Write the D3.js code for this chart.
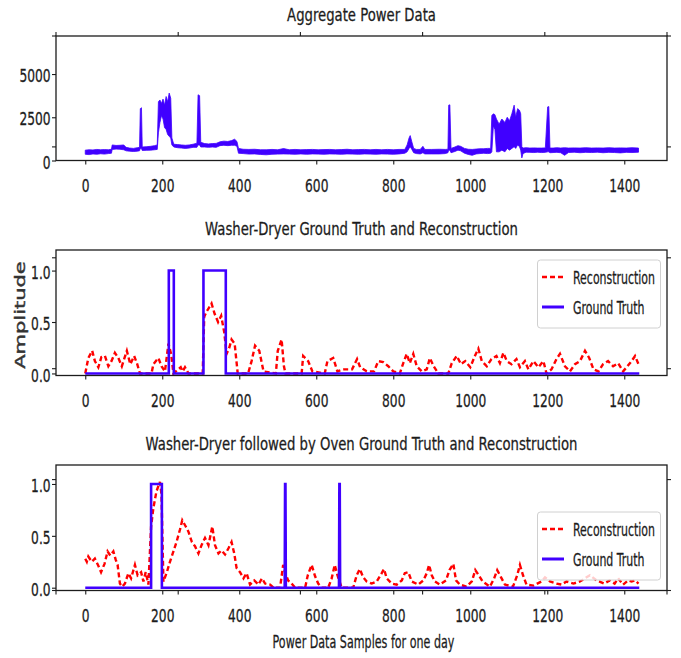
<!DOCTYPE html>
<html>
<head>
<meta charset="utf-8">
<script src="https://cdn.jsdelivr.net/npm/d3@7"></script>
<style>
  body { margin: 0; background: #fff; }
  text { font-family: 'DejaVu Sans', sans-serif; fill: #1c1c1c; stroke: #1c1c1c; stroke-width: 0.3; }
</style>
</head>
<body>
<script>
// ---- data ----
const xTicks = [0, 200, 400, 600, 800, 1000, 1200, 1400]
const aggTicks = [0, 2500, 5000]
const ampTicks = [0, 0.5, 1.0]
const titles = [
  'Aggregate Power Data',
  'Washer-Dryer Ground Truth and Reconstruction',
  'Washer-Dryer followed by Oven Ground Truth and Reconstruction'
]
const legendNames = ['Reconstruction', 'Ground Truth']

// aggregate power, [sample, low, high] of the noisy band
const aggBand = [
  [0, 360, 600], [10, 340, 620], [20, 380, 610], [30, 360, 640], [40, 390, 620], [50, 370, 630], [60, 400, 620], [68, 420, 650],
  [70, 640, 900], [80, 660, 870], [90, 650, 880], [100, 620, 900], [106, 560, 760], [115, 540, 720], [125, 520, 700], [135, 540, 740],
  [141, 560, 760], [143, 700, 3000], [146, 700, 3050], [148, 580, 780], [160, 590, 800], [170, 600, 820], [180, 620, 860], [187, 640, 900],
  [190, 1600, 3400], [194, 2200, 3500], [198, 2600, 3300], [202, 2400, 3550], [206, 1900, 3200], [210, 1800, 3700], [214, 1500, 3400],
  [218, 1400, 3900], [222, 1300, 3600], [225, 900, 1300],
  [230, 780, 940], [240, 740, 920], [250, 720, 900], [260, 700, 880], [270, 720, 900], [280, 760, 940], [290, 760, 1000],
  [293, 900, 3800], [297, 900, 3750], [300, 780, 1050], [310, 780, 980], [320, 760, 960], [330, 780, 980], [340, 760, 990],
  [350, 860, 1080], [360, 880, 1120], [370, 860, 1100], [380, 880, 1150], [388, 880, 1230], [394, 820, 1100], [398, 420, 700],
  [410, 400, 650], [425, 370, 640], [440, 380, 650], [455, 350, 620], [470, 330, 620], [485, 360, 640], [500, 370, 620],
  [515, 380, 690], [530, 370, 620], [545, 360, 640], [560, 380, 620], [575, 360, 630], [590, 380, 640], [605, 370, 620],
  [620, 360, 630], [635, 380, 640], [650, 370, 620], [665, 360, 630], [680, 380, 650], [695, 370, 620], [710, 360, 630],
  [725, 380, 640], [740, 370, 620], [755, 360, 640], [770, 380, 620], [785, 370, 640], [800, 360, 620], [815, 380, 640],
  [830, 420, 640], [836, 500, 900], [841, 700, 1300], [844, 800, 1440], [848, 650, 1100], [853, 450, 700],
  [860, 400, 640], [870, 380, 640], [877, 450, 820], [882, 380, 640], [900, 380, 640], [920, 380, 650], [935, 400, 640],
  [942, 450, 650], [944, 600, 3200], [947, 600, 3220], [950, 450, 700],
  [960, 520, 780], [968, 600, 860], [975, 560, 820], [985, 420, 700], [995, 350, 650], [1005, 300, 640], [1015, 380, 660],
  [1025, 400, 680], [1035, 420, 680], [1045, 400, 700], [1053, 420, 700],
  [1056, 500, 2600], [1060, 2000, 2700], [1064, 1800, 2650], [1068, 500, 2400], [1075, 500, 2100], [1082, 600, 2400],
  [1090, 500, 2200], [1096, 700, 2500], [1102, 600, 2300], [1108, 700, 2700], [1114, 800, 3200], [1118, 700, 2500],
  [1123, 900, 3000], [1128, 800, 2900], [1131, 600, 2700],
  [1134, 150, 800], [1137, 400, 720], [1145, 480, 740], [1155, 470, 720], [1165, 460, 730], [1175, 480, 720], [1185, 460, 720], [1195, 470, 730],
  [1201, 500, 3100], [1204, 500, 3120], [1207, 450, 720], [1215, 460, 720], [1225, 470, 740], [1235, 450, 720], [1245, 300, 740],
  [1255, 460, 720], [1270, 480, 730], [1285, 450, 720], [1300, 470, 740], [1315, 460, 720], [1330, 480, 730], [1345, 450, 720],
  [1360, 470, 740], [1375, 460, 720], [1390, 440, 730], [1405, 470, 720], [1420, 460, 740], [1437, 480, 720]
]

// washer-dryer panel
const recon1 = [
  [0, 0], [8, 0.15], [18, 0.22], [25, 0.12], [34, 0.06], [42, 0.16], [51, 0.17], [60, 0.07], [68, 0.12], [77, 0.2], [86, 0.15],
  [95, 0.07], [108, 0.22], [117, 0.09], [127, 0.17], [135, 0.09], [142, 0], [172, 0], [177, 0.09], [190, 0.15], [198, 0.07],
  [207, 0.02], [216, 0.29], [223, 0.19], [229, 0], [248, 0.06], [253, 0.02], [259, 0.06], [268, 0], [305, 0], [309, 0.55],
  [315, 0.6], [320, 0.63], [328, 0.68], [336, 0.58], [345, 0.5], [353, 0.56], [361, 0.4], [367, 0.19], [374, 0.25], [380, 0.33],
  [388, 0.29], [396, 0], [423, 0], [432, 0.12], [441, 0.27], [452, 0.22], [463, 0.02], [495, 0], [500, 0.22], [510, 0.33],
  [516, 0.07], [520, 0], [562, 0], [566, 0.17], [579, 0.12], [590, 0.02], [622, 0], [629, 0.12], [644, 0.15], [655, 0.02],
  [672, 0.04], [693, 0.04], [706, 0.14], [714, 0.06], [731, 0.02], [750, 0.02], [761, 0.12], [774, 0.11], [787, 0.07],
  [800, 0.02], [817, 0], [826, 0.1], [835, 0.19], [843, 0.1], [852, 0.19], [861, 0.07], [874, 0.02], [887, 0.04], [895, 0.15],
  [905, 0.07], [917, 0], [943, 0], [952, 0.1], [965, 0.17], [976, 0.09], [987, 0.12], [1000, 0.06], [1012, 0.17], [1021, 0.24],
  [1030, 0.12], [1043, 0.07], [1055, 0.14], [1068, 0.17], [1077, 0.1], [1086, 0.2], [1095, 0.12], [1107, 0.09], [1120, 0.14],
  [1129, 0.06], [1142, 0.12], [1151, 0.04], [1164, 0.12], [1177, 0.06], [1190, 0.12], [1198, 0], [1211, 0.04], [1224, 0.14],
  [1233, 0.19], [1246, 0.07], [1259, 0.02], [1272, 0.09], [1285, 0.12], [1298, 0.22], [1309, 0.15], [1320, 0.04], [1333, 0.02],
  [1345, 0.09], [1358, 0.12], [1371, 0.07], [1384, 0.1], [1397, 0.02], [1406, 0.06], [1419, 0.12], [1428, 0.17], [1437, 0.09]
]
const truth1 = [
  [0, 0], [217, 0], [217, 1], [230, 1], [230, 0], [307, 0], [307, 1], [365, 1], [365, 0], [1439, 0]
]

// washer-dryer followed by oven panel
const recon2 = [
  [0, 0.28], [4, 0.25], [8, 0.3], [17, 0.25], [25, 0.28], [33, 0.22], [41, 0.15], [50, 0.23], [58, 0.35], [65, 0.31], [73, 0.35],
  [79, 0.27], [84, 0.22], [90, 0.04], [96, 0.01], [103, 0.04], [112, 0.14], [119, 0.09], [129, 0.22], [136, 0.12], [145, 0.15],
  [151, 0.06], [157, 0.15], [164, 0.03], [171, 0.59], [177, 0.77], [185, 0.93], [194, 1.02], [198, 0.9], [203, 0.06], [212, 0.15],
  [220, 0.25], [229, 0.35], [237, 0.44], [246, 0.56], [252, 0.65], [261, 0.59], [268, 0.54], [277, 0.44], [285, 0.4], [294, 0.33],
  [302, 0.41], [311, 0.48], [320, 0.41], [330, 0.59], [337, 0.41], [346, 0.33], [354, 0.36], [363, 0.32], [372, 0.38], [380, 0.44],
  [387, 0.33], [393, 0.19], [402, 0.15], [411, 0.09], [419, 0.14], [428, 0.03], [439, 0.07], [450, 0.03], [459, 0.09], [467, 0.04],
  [480, 0.03], [489, 0], [506, 0], [514, 0.22], [520, 0.14], [527, 0.07], [536, 0.04], [545, 0], [571, 0], [578, 0.12], [588, 0.22],
  [597, 0.11], [605, 0.04], [614, 0], [631, 0], [640, 0.09], [648, 0.22], [655, 0.12], [666, 0], [696, 0], [705, 0.12], [713, 0.18],
  [722, 0.1], [731, 0.06], [744, 0.04], [757, 0.06], [770, 0.14], [776, 0.18], [783, 0.09], [796, 0.04], [809, 0.03], [822, 0.07],
  [830, 0.14], [839, 0.15], [848, 0.06], [865, 0.03], [878, 0.07], [887, 0.14], [893, 0.22], [900, 0.12], [908, 0.06], [921, 0.03],
  [937, 0.07], [946, 0.17], [956, 0.23], [963, 0.07], [973, 0.03], [990, 0.01], [1004, 0.06], [1013, 0.17], [1022, 0.12],
  [1032, 0.06], [1051, 0.01], [1062, 0.09], [1070, 0.17], [1080, 0.1], [1090, 0.03], [1111, 0.01], [1122, 0.12], [1129, 0.22],
  [1137, 0.12], [1146, 0.03], [1164, 0.02], [1185, 0.06], [1194, 0.1], [1207, 0.06], [1224, 0.04], [1237, 0.03], [1250, 0.06],
  [1268, 0.04], [1285, 0.06], [1302, 0.1], [1311, 0.12], [1328, 0.07], [1348, 0.04], [1362, 0.07], [1375, 0.04], [1384, 0.09],
  [1397, 0.03], [1410, 0.07], [1419, 0.06], [1428, 0.07], [1437, 0.04]
]
const truth2 = [
  [0, 0], [171, 0], [171, 1], [199, 1], [199, 0], [518, 0], [519, 1], [520, 1], [521, 0],
  [659, 0], [660, 1], [661, 1], [662, 0], [1439, 0]
]

// ---- layout ----
let width = 681
let height = 658
let left = 56
let right = 667
let blue = '#4000ff'
let red = '#ff0000'

let svg = d3
  .select('body')
  .append('svg')
  .attr('width', width)
  .attr('height', height)

let xPositionScale = d3.scaleLinear().domain([-76, 1511]).range([left, right])

// the picture is squashed sideways, so text is too
function addText(sel, x, y, str, size, squash, anchor) {
  return sel
    .append('text')
    .attr('transform', 'translate(' + x + ',' + y + ') scale(' + squash + ',1)')
    .attr('text-anchor', anchor || 'middle')
    .attr('font-size', size)
    .text(str)
}

let panels = [
  { top: 36, bottom: 160.5, domain: [0, 7200], ticks: aggTicks, fmt: d3.format('d') },
  { top: 250, bottom: 375.5, domain: [-0.02, 1.2], ticks: ampTicks, fmt: d3.format('.1f') },
  { top: 465, bottom: 590.5, domain: [-0.027, 1.183], ticks: ampTicks, fmt: d3.format('.1f') }
]

panels.forEach((p, i) => {
  p.y = d3.scaleLinear().domain(p.domain).range([p.bottom, p.top])
  let g = svg.append('g')

  g.append('clipPath')
    .attr('id', 'clip' + i)
    .append('rect')
    .attr('x', left)
    .attr('y', p.top)
    .attr('width', right - left)
    .attr('height', p.bottom - p.top)
  p.plot = g.append('g').attr('clip-path', 'url(#clip' + i + ')')

  let xAxis = d3.axisBottom(xPositionScale)
    .tickValues(xTicks)
    .tickFormat(d3.format('d'))
    .tickSize(4)
    .tickSizeOuter(0)
    .tickPadding(15)
  let xg = g.append('g')
    .attr('transform', 'translate(0,' + p.bottom + ')')
    .call(xAxis)
  xg.select('.domain').remove()
  xg.selectAll('line').attr('stroke', '#1c1c1c').attr('stroke-width', 1.1)
  xg.selectAll('text')
    .attr('font-size', 18)
    .attr('font-family', 'DejaVu Sans')
    .attr('fill', '#1c1c1c')
    .attr('transform', 'scale(0.68,1)')

  let yAxis = d3.axisLeft(p.y)
    .tickValues(p.ticks)
    .tickFormat(p.fmt)
    .tickSize(4)
    .tickSizeOuter(0)
    .tickPadding(4)
  let yg = g.append('g')
    .attr('transform', 'translate(' + left + ',0)')
    .call(yAxis)
  yg.select('.domain').remove()
  yg.selectAll('line').attr('stroke', '#1c1c1c').attr('stroke-width', 1.1)
  yg.selectAll('text')
    .attr('font-size', 18)
    .attr('font-family', 'DejaVu Sans')
    .attr('fill', '#1c1c1c')
    .attr('dy', '0.42em')
    .attr('transform', 'scale(0.68,1)')

  addText(g, (left + right) / 2, p.top - 15.5, titles[i], 18, 0.735)
})

// Aggregate power band
let aggArea = d3.area()
  .x(d => xPositionScale(d[0]))
  .y0(d => panels[0].y(d[1]))
  .y1(d => panels[0].y(d[2]))
panels[0].plot.append('path')
  .datum(aggBand)
  .attr('d', aggArea)
  .attr('fill', blue)
  .attr('stroke', blue)
  .attr('stroke-width', 0.8)
  .attr('stroke-linejoin', 'round')

// Reconstruction and ground truth
let series = [[recon1, truth1], [recon2, truth2]]
series.forEach((s, k) => {
  let p = panels[k + 1]
  let line = d3.line()
    .x(d => xPositionScale(d[0]))
    .y(d => p.y(d[1]))
  p.plot.append('path')
    .datum(s[0])
    .attr('d', line)
    .attr('fill', 'none')
    .attr('stroke', red)
    .attr('stroke-width', 2.4)
    .attr('stroke-dasharray', '5,3')
  p.plot.append('path')
    .datum(s[1])
    .attr('d', line)
    .attr('fill', 'none')
    .attr('stroke', blue)
    .attr('stroke-width', 2.6)
    .attr('stroke-linejoin', 'miter')
})

// legends
let legendTops = [260, 512]
legendTops.forEach(t => {
  let lg = svg.append('g')
  lg.append('rect')
    .attr('x', 537.5)
    .attr('y', t)
    .attr('width', 123)
    .attr('height', 68)
    .attr('rx', 3)
    .attr('fill', '#fff')
    .attr('fill-opacity', 0.8)
    .attr('stroke', '#d0d0d0')
  lg.append('line')
    .attr('x1', 542).attr('x2', 564)
    .attr('y1', t + 17).attr('y2', t + 17)
    .attr('stroke', red)
    .attr('stroke-width', 2.6)
    .attr('stroke-dasharray', '5,3')
  lg.append('line')
    .attr('x1', 542).attr('x2', 564)
    .attr('y1', t + 47).attr('y2', t + 47)
    .attr('stroke', blue)
    .attr('stroke-width', 3)
  addText(lg, 573, t + 23.5, legendNames[0], 17.4, 0.63, 'start')
  addText(lg, 573, t + 53.5, legendNames[1], 17.4, 0.63, 'start')
})

// spines on top of everything
panels.forEach(p => {
  svg.append('rect')
    .attr('x', left)
    .attr('y', p.top)
    .attr('width', right - left)
    .attr('height', p.bottom - p.top)
    .attr('fill', 'none')
    .attr('stroke', '#1c1c1c')
    .attr('stroke-width', 1.3)
})

// the frameless outer axes still shows its ticks on all four sides
let fracScaleX = d3.scaleLinear().domain([0, 1]).range([left, right])
let fracScaleY = d3.scaleLinear().domain([0, 1]).range([590.5, 36])
let fracTicks = [0, 0.2, 0.4, 0.6, 0.8, 1.0]
let outer = svg.append('g').attr('stroke', '#1c1c1c').attr('stroke-width', 1.1)
fracTicks.forEach(f => {
  let x = fracScaleX(f)
  let y = fracScaleY(f)
  outer.append('line').attr('x1', x).attr('x2', x).attr('y1', 36).attr('y2', 32)
  outer.append('line').attr('x1', x).attr('x2', x).attr('y1', 590.5).attr('y2', 594.5)
  outer.append('line').attr('x1', left).attr('x2', left - 4).attr('y1', y).attr('y2', y)
  outer.append('line').attr('x1', right).attr('x2', right + 4).attr('y1', y).attr('y2', y)
})

// axis labels
addText(svg, 363.5, 648, 'Power Data Samples for one day', 17, 0.655)
svg.append('text')
  .attr('transform', 'translate(25,315) scale(0.68,1) rotate(-90)')
  .attr('text-anchor', 'middle')
  .attr('font-size', 21)
  .style('fill', '#333')
  .style('stroke', '#333')
  .style('stroke-width', 0.6)
  .text('Amplitude')
</script>
</body>
</html>
